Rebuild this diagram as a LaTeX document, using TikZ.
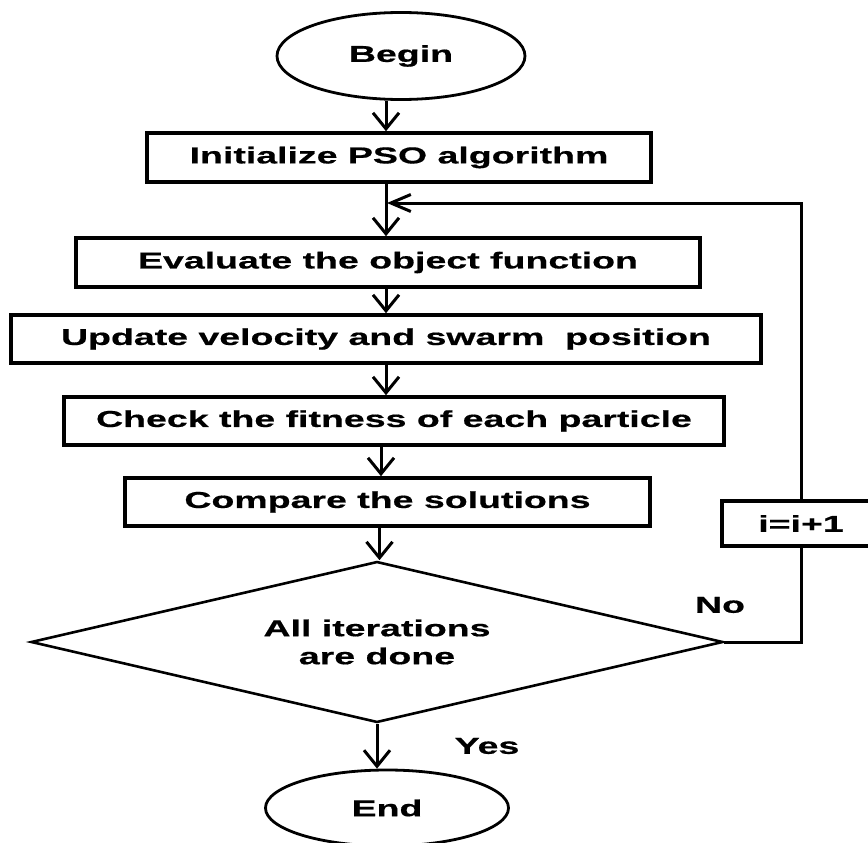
\documentclass[tikz,border=0pt]{standalone}
\usepackage{fontspec}
\newfontfamily\boxfont[FakeStretch=1.63,FakeBold=0.6]{Liberation Sans Bold}
\usetikzlibrary{arrows.meta,shapes.geometric}

\tikzset{
  every node/.style={font=\boxfont\fontsize{23}{28}\selectfont, text=black},
  procbox/.style={draw, line width=3.6pt, rectangle, inner sep=0pt, minimum height=48pt},
  terminal/.style={draw, line width=2.8pt, ellipse, inner sep=0pt},
  decide/.style={draw, line width=2.6pt, diamond, shape aspect=4.3, inner sep=0pt, align=center,
                 minimum width=692pt, minimum height=161pt},
  flow/.style={line width=3pt, -{Straight Barb[length=16pt,width=26pt,line width=3pt]}},
  back/.style={line width=3pt, -{Straight Barb[length=20pt,width=17pt,line width=3pt]}},
  plain/.style={line width=3pt}
}

\begin{document}
\begin{tikzpicture}[x=1pt,y=-1pt]
  \clip (0,0) rectangle (868,843);
  \fill[white] (0,0) rectangle (868,843);

  % terminals
  \node[terminal, minimum width=248pt, minimum height=87pt] (begin) at (401,56) {Begin};
  \node[terminal, minimum width=243pt, minimum height=76pt] (end) at (387,808) {End};

  % process steps
  \node[procbox, minimum width=504pt, minimum height=49pt] (init) at (399,157.5) {Initialize PSO algorithm\hspace{18pt}};
  \node[procbox, minimum width=624pt, minimum height=49pt] (eval) at (388,262.5) {Evaluate the object function};
  \node[procbox, minimum width=750pt] (update) at (386,339) {Update velocity and swarm \ position\hspace{42pt}};
  \node[procbox, minimum width=660pt] (check) at (394,421) {Check the fitness of each particle};
  \node[procbox, minimum width=525pt] (compare) at (387.5,502) {Compare the solutions\hspace{54pt}};
  \node[procbox, minimum width=158pt, minimum height=45pt] (inc) at (801,523.5) {i=i+1};

  % decision
  \node[decide] (done) at (377,642) {All iterations\\are done};

  % branch labels
  \node (no) at (720,605) {No};
  \node (yes) at (487,746) {Yes};

  % main flow
  \draw[flow] ([xshift=-15pt]begin.south) -- ([xshift=-15pt]begin.south |- init.north);
  \draw[flow] ([xshift=-13pt]init.south) -- ([xshift=-13pt]init.south |- eval.north);
  \draw[flow] ([xshift=-2pt]eval.south) -- ([xshift=-2pt]eval.south |- update.north);
  \draw[flow] (update.south) -- (update.south |- check.north);
  \draw[flow] ([xshift=-13pt]check.south) -- ([xshift=-13pt]check.south |- compare.north);
  \draw[flow] ([xshift=-8pt]compare.south) -- ([xshift=-8pt]compare.south |- done.north);
  \draw[flow] (done.south) -- (done.south |- end.north);

  % loop back
  \coordinate (loopin) at (387,203);
  \draw[plain] (done.east) -| (inc.south);
  \draw[back] (inc.north) |- (loopin);
\end{tikzpicture}
\end{document}
